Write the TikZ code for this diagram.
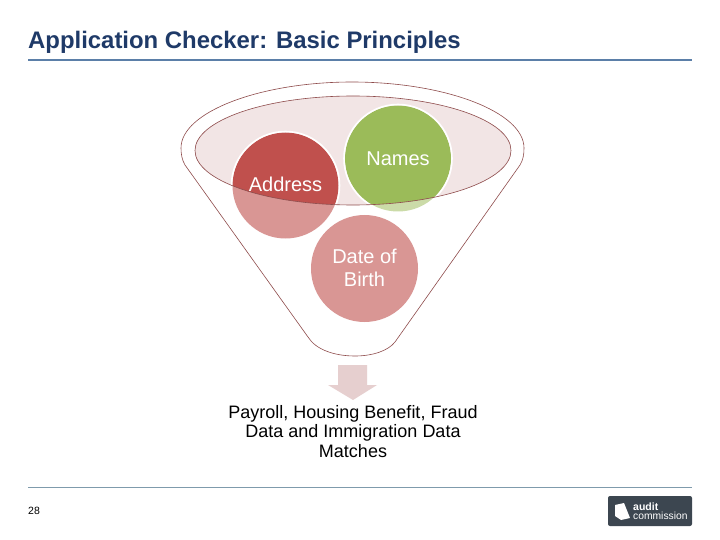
\documentclass[tikz,border=0pt]{standalone}
\usepackage{fontspec}
\setmainfont{Liberation Sans}
\definecolor{titleblue}{HTML}{1F3A68}
\definecolor{rulea}{HTML}{5B7FA8}
\definecolor{ruleb}{HTML}{7F9BAC}
\definecolor{funnelline}{HTML}{8E4B4B}
\definecolor{funnelfill}{HTML}{F2E5E5}
\definecolor{reddark}{HTML}{C0504D}
\definecolor{redlight}{HTML}{D99694}
\definecolor{greendark}{HTML}{9BBB59}
\definecolor{greenlight}{HTML}{CBDBA8}
\definecolor{arrowpink}{HTML}{E6CFCF}
\definecolor{logodark}{HTML}{3C4650}
\tikzset{
  circlabel/.style={text=white,font=\fontsize{20}{23}\selectfont,align=center},
  outlabel/.style={text=black,font=\fontsize{18}{19.5}\selectfont,align=center},
  funnelstroke/.style={draw=funnelline,line width=0.6pt},
  ballring/.style={draw=white,line width=1.6pt}
}
\begin{document}
\begin{tikzpicture}[x=1pt,y=-1pt]
\useasboundingbox (0,0) rectangle (720,540);
\fill[white] (0,0) rectangle (720,540);
% title
\node[anchor=base west,inner sep=0pt,text=titleblue,font=\fontsize{23.9}{26}\selectfont\bfseries] (title) at (28,48.5) {Application Checker: Basic Principles};
\draw[rulea,line width=2.6pt] (28,60) -- (692,60);
% funnel outline
\draw[funnelstroke] (181,148)
  .. controls (181,112) and (260,82) .. (352,82)
  .. controls (445,82) and (524,112) .. (524,148)
  .. controls (524,155) and (523,160) .. (520,165)
  -- (395,342)
  .. controls (388,351) and (372,356) .. (355,356)
  .. controls (335,356) and (316,350) .. (308,337)
  -- (185,165)
  .. controls (182,160) and (181,154) .. cycle;
% light parts of the balls
\fill[redlight] (285.5,185.5) circle (53);
\fill[greenlight] (398,158.5) circle (53);
% rim
\path[fill=funnelfill] (353,150.5) ellipse [x radius=158,y radius=54.5];
\begin{scope}
  \clip (353,150.5) ellipse [x radius=158,y radius=54.5];
  \fill[reddark] (285.5,185.5) circle (53);
  \draw[ballring] (285.5,185.5) circle (54);
  \fill[greendark] (398,158.5) circle (53);
  \draw[ballring] (398,158.5) circle (54);
\end{scope}
\draw[funnelstroke] (353,150.5) ellipse [x radius=158,y radius=54.5];
\fill[redlight] (364.5,268.5) circle (53.5);
% ball labels
\node[circlabel,inner sep=0pt] (names) at (398,158.5) {Names};
\node[circlabel,inner sep=0pt] (address) at (285.5,184.5) {Address};
\node[circlabel,inner sep=0pt] (dob) at (364.5,268) {Date of\\Birth};
% arrow
\fill[arrowpink] (338,365) -- (367,365) -- (367,385) -- (377,385) -- (353,400) -- (328,385) -- (338,385) -- cycle;
\node[outlabel,inner sep=0pt] (result) at (353,431.5) {Payroll, Housing Benefit, Fraud\\Data and Immigration Data\\Matches};
% footer
\draw[ruleb,line width=0.7pt] (28,487) -- (692,487);
\node[anchor=base west,inner sep=0pt,text=black,font=\fontsize{10.5}{12}\selectfont] (page) at (28,514) {28};
\fill[logodark,rounded corners=2pt] (608,496) rectangle (692,526);
\fill[white] (615,505) -- (624,503) -- (630,518) -- (621,520) -- (615,516) -- cycle;
\node[anchor=base west,inner sep=0pt,text=white,font=\fontsize{10.5}{12}\selectfont\bfseries] (logoa) at (633,510) {audit};
\node[anchor=base west,inner sep=0pt,text=white,font=\fontsize{10.3}{12}\selectfont] (logob) at (633,519.5) {commission};
\end{tikzpicture}
\end{document}
